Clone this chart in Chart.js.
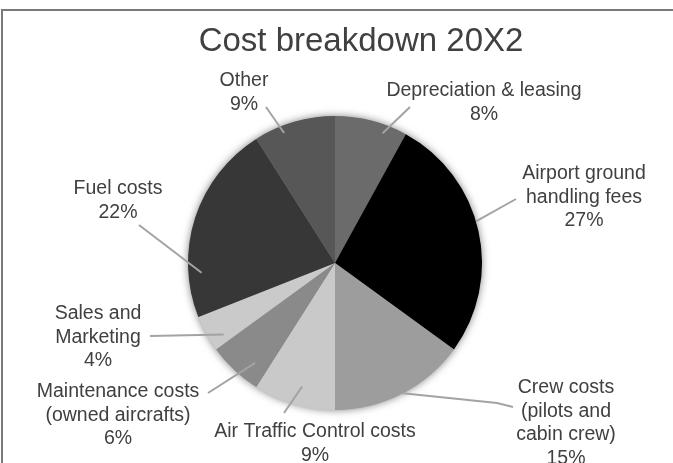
<!DOCTYPE html>
<html>
<head>
<meta charset="utf-8">
<title>Cost breakdown 20X2</title>
<script src="https://cdn.jsdelivr.net/npm/chart.js@4.4.0/dist/chart.umd.min.js"></script>
<style>
    html, body { margin: 0; padding: 0; background: #fff; }
    #wrap { width: 673px; height: 463px; }
</style>
</head>
<body>
<div id="wrap"><canvas id="cost-pie" width="673" height="463"></canvas></div>
<script>
    "use strict";

    // Slices, clockwise from 12 o'clock
    var categories = [
        ["Depreciation & leasing"],
        ["Airport ground", "handling fees"],
        ["Crew costs", "(pilots and", "cabin crew)"],
        ["Air Traffic Control costs"],
        ["Maintenance costs", "(owned aircrafts)"],
        ["Sales and", "Marketing"],
        ["Fuel costs"],
        ["Other"]
    ];
    var shares = [8, 27, 15, 9, 6, 4, 22, 9];
    var shades = ["#6b6b6b", "#000000", "#9d9d9d", "#c9c9c9", "#8a8a8a", "#cacaca", "#373737", "#575757"];

    // Where each label sits and how its leader line runs
    // x,y = centre / first baseline, bend = outer end(s) of the leader,
    // t = position along the slice's angle, rf = fraction of radius
    var labelSpots = [
        { x: 484, y: 96,  bend: [[410, 107]], t: 0.70, rf: 0.94 },
        { x: 584, y: 179, bend: [[516, 199]], t: 0.46, rf: 1.00 },
        { x: 566, y: 393, bend: [[513, 407], [497, 403]], t: 0.49, rf: 1.00 },
        { x: 315, y: 437, bend: [[284, 413]], t: 0.46, rf: 0.87 },
        { x: 118, y: 397, bend: [[208, 393]], t: 0.29, rf: 0.87 },
        { x: 98,  y: 319, bend: [[150, 336]], t: 0.23, rf: 0.90 },
        { x: 118, y: 194, bend: [[139, 225]], t: 0.22, rf: 0.91 },
        { x: 244, y: 86,  bend: [[266, 107]], t: 0.34, rf: 0.95 }
    ];

    var FONT = '"Liberation Sans", Arial, Helvetica, sans-serif';
    var TEXT = "#404040";
    var LINE_H = 23.5;

    var pieDecor = {
        id: "pieDecor",
        beforeDraw: function (chart) {
            var ctx = chart.ctx;
            ctx.save();
            // outer frame (runs off the right and bottom edges)
            ctx.strokeStyle = "#7a7a7a";
            ctx.lineWidth = 2;
            ctx.strokeRect(2, 10, chart.width + 20, chart.height + 20);
            // title
            ctx.fillStyle = TEXT;
            ctx.font = "33px " + FONT;
            ctx.textAlign = "center";
            ctx.textBaseline = "alphabetic";
            ctx.fillText("Cost breakdown 20X2", 361, 51);
            ctx.restore();
        },
        beforeDatasetsDraw: function (chart) {
            // soft glow under the whole pie
            var arc = chart.getDatasetMeta(0).data[0];
            if (!arc) return;
            var ctx = chart.ctx;
            ctx.save();
            ctx.shadowColor = "rgba(0, 0, 0, 0.55)";
            ctx.shadowBlur = 9;
            ctx.fillStyle = "#888";
            ctx.beginPath();
            ctx.arc(arc.x, arc.y, arc.outerRadius - 0.5, 0, Math.PI * 2);
            ctx.fill();
            ctx.restore();
        },
        afterDatasetsDraw: function (chart) {
            var ctx = chart.ctx;
            var arcs = chart.getDatasetMeta(0).data;
            ctx.save();
            arcs.forEach(function (arc, i) {
                var spot = labelSpots[i];
                var a = arc.startAngle + (arc.endAngle - arc.startAngle) * spot.t;
                var r = arc.outerRadius * spot.rf;
                var px = arc.x + Math.cos(a) * r;
                var py = arc.y + Math.sin(a) * r;

                ctx.strokeStyle = "#a3a3a3";
                ctx.lineWidth = 2;
                ctx.beginPath();
                ctx.moveTo(spot.bend[0][0], spot.bend[0][1]);
                for (var k = 1; k < spot.bend.length; k++) {
                    ctx.lineTo(spot.bend[k][0], spot.bend[k][1]);
                }
                ctx.lineTo(px, py);
                ctx.stroke();

                var lines = categories[i].concat([shares[i] + "%"]);
                ctx.fillStyle = TEXT;
                ctx.font = "19.5px " + FONT;
                ctx.textAlign = "center";
                ctx.textBaseline = "alphabetic";
                lines.forEach(function (txt, j) {
                    ctx.fillText(txt, spot.x, spot.y + j * LINE_H);
                });
            });
            ctx.restore();
        }
    };

    var ctx1 = document.getElementById("cost-pie").getContext("2d");
    var costChart = new Chart(ctx1, {
        type: "pie",
        data: {
            labels: categories,
            datasets: [{
                data: shares,
                backgroundColor: shades,
                borderWidth: 0,
                hoverOffset: 0
            }]
        },
        options: {
            responsive: false,
            devicePixelRatio: 1,
            animation: false,
            layout: {
                padding: { left: 188, right: 191, top: 116, bottom: 53 }
            },
            plugins: {
                legend: { display: false },
                tooltip: { enabled: false },
                title: { display: false }
            }
        },
        plugins: [pieDecor]
    });
</script>
</body>
</html>
